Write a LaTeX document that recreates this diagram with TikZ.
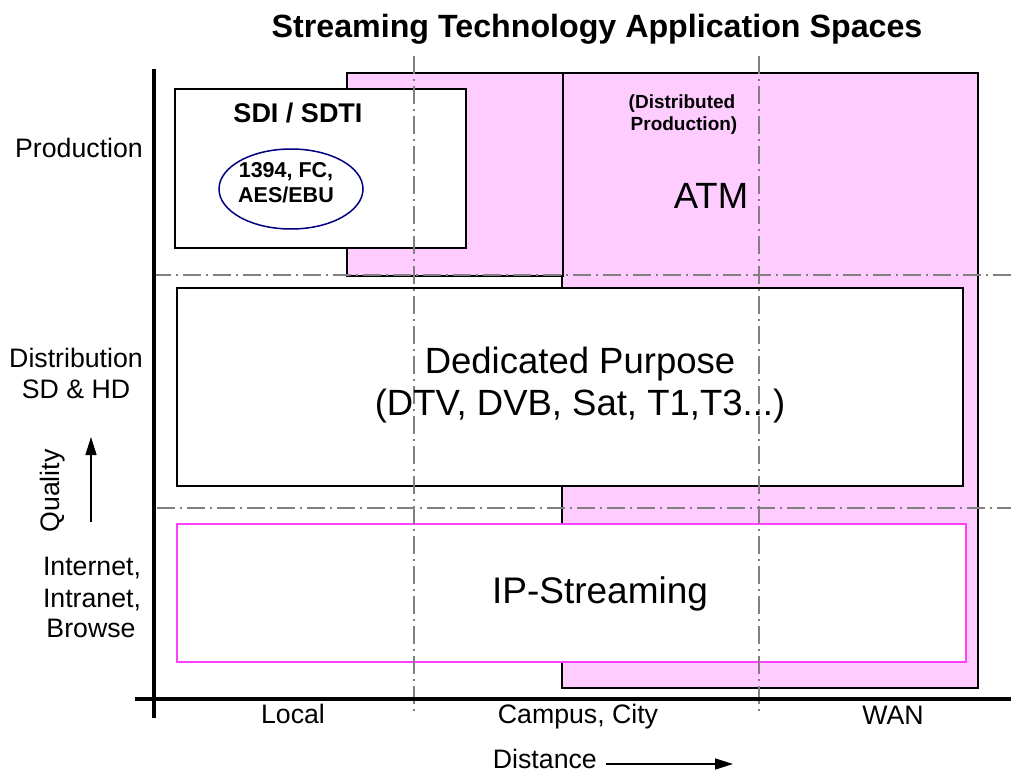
\documentclass[tikz,border=0pt]{standalone}
\usepackage{fontspec}
\setmainfont{Liberation Sans}
\usetikzlibrary{arrows.meta,shapes.geometric}
\definecolor{pinkfill}{HTML}{FFCCFF}
\definecolor{magborder}{HTML}{FF40FF}
\definecolor{navyline}{HTML}{000080}
\definecolor{dashgray}{HTML}{808080}
\tikzset{
  box/.style={draw=black, line width=1.5pt, fill=white, rectangle, inner sep=0pt},
  pinkbox/.style={draw=black, line width=1.5pt, fill=pinkfill, rectangle, inner sep=0pt},
  gridline/.style={draw=dashgray, line width=1.8pt, dash pattern=on 18pt off 5pt on 2pt off 5pt},
  axisline/.style={draw=black, line width=4pt},
  lbl/.style={font=\fontsize{26.7}{31}\selectfont, inner sep=0pt, anchor=base},
  big/.style={font=\fontsize{36.5}{40}\selectfont, inner sep=0pt, anchor=base},
  arr/.style={draw=black, line width=1.5pt, -{Triangle[length=18pt,width=11pt]}},
}
\begin{document}
\begin{tikzpicture}[x=1pt,y=-1pt]
\useasboundingbox (0,0) rectangle (1011,773);
% ATM region
\node[pinkbox, minimum width=416pt, minimum height=615pt] (atmB) at (770,380.5) {};
\node[pinkbox, minimum width=216pt, minimum height=203pt] (atmA) at (455,174.5) {};
% boxes
\node[box, minimum width=291pt, minimum height=159pt] (sdi) at (320.5,168.5) {};
\node[draw=navyline, line width=1.5pt, ellipse, fill=white, minimum width=144pt, minimum height=80pt, inner sep=0pt] (ell) at (291,189) {};
\node[box, minimum width=786pt, minimum height=198pt] (ded) at (570,387) {};
\node[box, draw=magborder, minimum width=789pt, minimum height=138pt] (ip) at (571.5,593) {};
% grid lines
\coordinate (v1t) at (414,56); \coordinate (v1b) at (414,712);
\coordinate (v2t) at (759,56); \coordinate (v2b) at (759,712);
\coordinate (h1l) at (153,275); \coordinate (h1r) at (1011,275);
\coordinate (h2l) at (157,508); \coordinate (h2r) at (1011,508);
\draw[gridline] (v1t) -- (v1b);
\draw[gridline] (v2t) -- (v2b);
\draw[gridline] (h1l) -- (h1r);
\draw[gridline] (h2l) -- (h2r);
% axes
\coordinate (yaxT) at (154,69); \coordinate (yaxB) at (154,718);
\coordinate (xaxL) at (135,699); \coordinate (xaxR) at (1011,699);
\draw[axisline] (yaxT) -- (yaxB);
\draw[axisline] (xaxL) -- (xaxR);
% title
\node[font=\fontsize{32.2}{37}\selectfont\bfseries, inner sep=0pt, anchor=base] (title) at (597,38) {Streaming Technology Application Spaces};
% box texts
\node[font=\fontsize{27}{31}\selectfont\bfseries, inner sep=0pt, anchor=base] (sditext) at (298,123) {SDI / SDTI};
\node[font=\fontsize{21.5}{25}\selectfont\bfseries, inner sep=0pt, anchor=base] (e1) at (286,177) {1394, FC,};
\node[font=\fontsize{21.5}{25}\selectfont\bfseries, inner sep=0pt, anchor=base] (e2) at (286,202) {AES/EBU};
\node[font=\fontsize{19}{21}\selectfont\bfseries, inner sep=0pt, anchor=base] (dp1) at (682,109) {(Distributed};
\node[font=\fontsize{19}{21}\selectfont\bfseries, inner sep=0pt, anchor=base] (dp2) at (684,130) {Production)};
\node[big] (atm) at (711,208) {ATM};
\node[big] (ded1) at (580,373) {Dedicated Purpose};
\node[big] (ded2) at (580,415) {(DTV, DVB, Sat, T1,T3...)};
\node[big, font=\fontsize{37}{40}\selectfont] (iptext) at (600,603) {IP-Streaming};
% left labels
\node[lbl] (prod) at (79,157) {Production};
\node[lbl] (dist1) at (76,367) {Distribution};
\node[lbl] (dist2) at (76,398) {SD \& HD};
\node[lbl] (in1) at (92,575) {Internet,};
\node[lbl] (in2) at (92,607) {Intranet,};
\node[lbl] (in3) at (91,637) {Browse};
\node[font=\fontsize{26.7}{31}\selectfont, inner sep=0pt, rotate=90] (qual) at (53,491) {Quality};
\coordinate (qa1) at (91,522); \coordinate (qa2) at (91,437);
\draw[arr] (qa1) -- (qa2);
% bottom labels
\node[lbl] (local) at (293,723) {Local};
\node[lbl] (campus) at (578,723) {Campus, City};
\node[lbl] (wan) at (893,724) {WAN};
\node[lbl, anchor=base east] (distance) at (597,768) {Distance};
\coordinate (da1) at (606,764); \coordinate (da2) at (733,764);
\draw[arr] (da1) -- (da2);
\end{tikzpicture}
\end{document}
